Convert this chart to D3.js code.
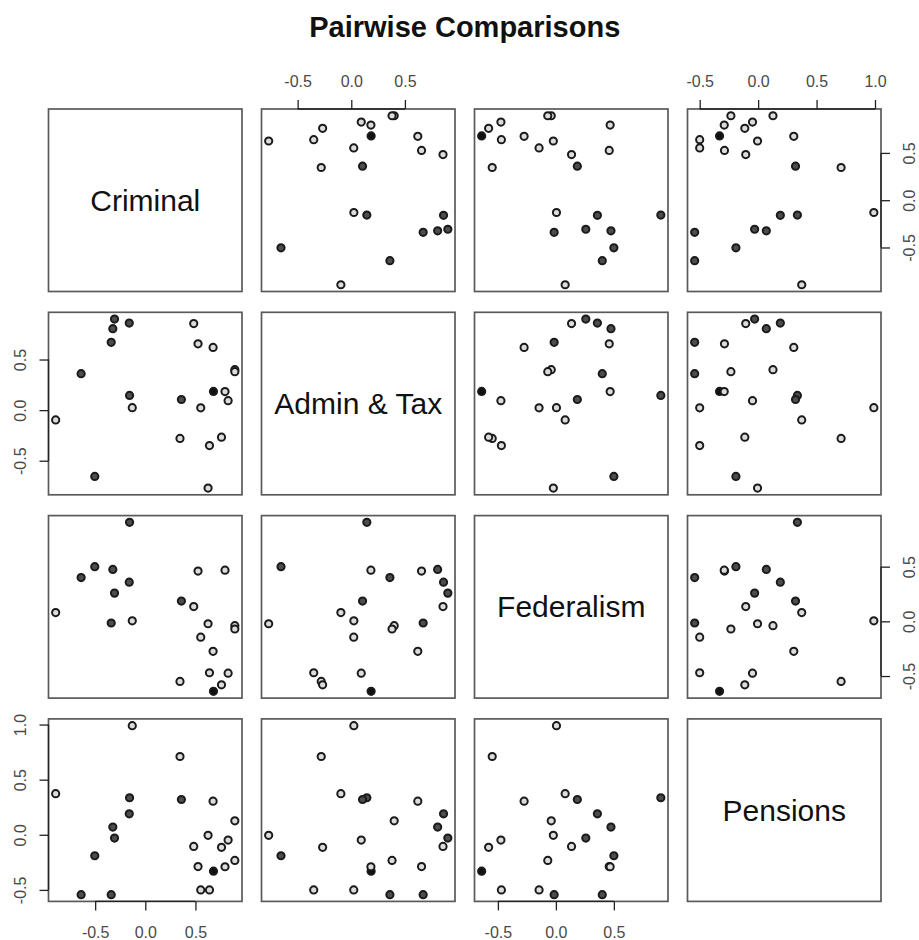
<!DOCTYPE html>
<html>
<head>
<meta charset="utf-8">
<script src="https://d3js.org/d3.v7.min.js"></script>
<style>
  body { margin: 0; background: #fff; }
  text { font-family: "Liberation Sans", Arial, sans-serif; }
</style>
</head>
<body>
<div id="pairs"></div>
<script>
// variable names (diagonal labels)
const varNames = ["Criminal", "Admin & Tax", "Federalism", "Pensions"];

const criminal   = [-0.894, -0.64, -0.504, -0.34, -0.324, -0.307, -0.16, -0.157, -0.13, 0.346, 0.36, 0.483, 0.526, 0.553, 0.626, 0.64, 0.676, 0.68, 0.76, 0.795, 0.826, 0.893, 0.893];
const adminTax   = [-0.097, 0.36, -0.655, 0.67, 0.805, 0.9, 0.86, 0.145, 0.024, -0.28, 0.105, 0.855, 0.655, 0.023, -0.77, -0.35, 0.62, 0.185, -0.267, 0.183, 0.093, 0.40, 0.38];
const federalism = [0.08, 0.40, 0.50, -0.015, 0.475, 0.258, 0.358, 0.905, 0.005, -0.549, 0.185, 0.135, 0.46, -0.145, -0.022, -0.47, -0.274, -0.64, -0.58, 0.468, -0.474, -0.04, -0.07];
const pensions   = [0.373, -0.543, -0.19, -0.543, 0.07, -0.03, 0.19, 0.336, 0.99, 0.71, 0.32, -0.106, -0.288, -0.5, -0.005, -0.5, 0.305, -0.33, -0.114, -0.29, -0.048, 0.127, -0.233];
const shade      = ["light", "dark", "dark", "dark", "dark", "dark", "dark", "dark", "light", "light", "dark", "light", "light", "light", "light", "light", "light", "black", "light", "light", "light", "light", "light"];

// tick labels for each variable
const criminalTicks   = [-0.5, 0, 0.5];
const adminTaxTicks   = [-0.5, 0, 0.5];
const federalismTicks = [-0.5, 0, 0.5];
const pensionsTicks   = [-0.5, 0, 0.5, 1.0];

const title = "Pairwise Comparisons";

class PairsPlot {
	constructor(_vars){
		this.width = 919;
		this.height = 940;
		this.panel = {left: 48.5, top: 109, w: 193.5, h: 182.5, gapX: 19.5, gapY: 20.8};
		this.fills = {light: "#dcdcdc", dark: "#4d4d4d", black: "#111"};
		this.vars = _vars;

		this.initVis();
	}

	initVis() {
		let vis = this;

		vis.svg = d3.select("#pairs")
			.append("svg")
			  .attr("width", vis.width)
			  .attr("height", vis.height);

		vis.svg.append("text")
			.attr("x", vis.panel.left + (4 * vis.panel.w + 3 * vis.panel.gapX) / 2)
			.attr("y", 37)
			.attr("text-anchor", "middle")
			.style("font-size", "29px")
			.style("font-weight", "bold")
			.attr("fill", "#111")
			.text(title);

		// one horizontal and one vertical scale per variable, with R's 4% padding
		vis.vars.forEach(v => {
			let [lo, hi] = d3.extent(v.values);
			let pad = (hi - lo) * 0.04;
			v.x = d3.scaleLinear().domain([lo - pad, hi + pad]).range([0, vis.panel.w]);
			v.y = d3.scaleLinear().domain([lo - pad, hi + pad]).range([vis.panel.h, 0]);
		});

		vis.renderVis();
	}

	renderVis(){
		let vis = this;
		let n = vis.vars.length;
		let fmt = d => d.toFixed(1);

		for (let i = 0; i < n; i++) {
			for (let j = 0; j < n; j++) {
				let g = vis.svg.append("g")
					.attr("transform", `translate(${vis.panel.left + j * (vis.panel.w + vis.panel.gapX)}, ${vis.panel.top + i * (vis.panel.h + vis.panel.gapY)})`);

				let xv = vis.vars[j], yv = vis.vars[i];

				if (i === j) {
					g.append("text")
						.attr("x", vis.panel.w / 2)
						.attr("y", vis.panel.h / 2)
						.attr("text-anchor", "middle")
						.attr("dominant-baseline", "central")
						.style("font-size", "30px")
						.attr("fill", "#111")
						.text(xv.name);
				} else {
					g.selectAll("circle")
						.data(d3.range(xv.values.length))
						.join("circle")
						.attr("cx", k => xv.x(xv.values[k]))
						.attr("cy", k => yv.y(yv.values[k]))
						.attr("r", 3.6)
						.attr("fill", k => vis.fills[shade[k]])
						.attr("stroke", "#1a1a1a")
						.attr("stroke-width", 2);
				}

				g.append("rect")
					.attr("width", vis.panel.w)
					.attr("height", vis.panel.h)
					.attr("fill", "none")
					.attr("stroke", "#5a5a5a")
					.attr("stroke-width", 1.7);

				// R pairs(): axes alternate around the outside
				if (i === 0 && j % 2 === 1) vis.drawAxis(g, d3.axisTop(xv.x), xv, "top", fmt);
				if (i === n - 1 && j % 2 === 0) vis.drawAxis(g, d3.axisBottom(xv.x), xv, "bottom", fmt);
				if (j === 0 && i % 2 === 1) vis.drawAxis(g, d3.axisLeft(yv.y), yv, "left", fmt);
				if (j === n - 1 && i % 2 === 0) vis.drawAxis(g.append("g").attr("transform", `translate(${vis.panel.w},0)`), d3.axisRight(yv.y), yv, "right", fmt);
			}
		}
	}

	drawAxis(g, axis, v, side, fmt){
		let scale = (side === "top" || side === "bottom") ? v.x : v.y;
		let ax = g.append("g")
			.attr("transform", side === "bottom" ? `translate(0,${this.panel.h})` : null)
			.call(axis.tickValues(v.ticks).tickSize(9).tickSizeOuter(0).tickFormat(fmt));

		ax.select(".domain").remove();
		ax.selectAll("line").attr("stroke", "#222").attr("stroke-width", 1.3);

		// axis line only spans the ticks, like base R
		let a = scale(v.ticks[0]), b = scale(v.ticks[v.ticks.length - 1]);
		if (side === "top" || side === "bottom")
			ax.append("line").attr("x1", a).attr("x2", b).attr("stroke", "#222").attr("stroke-width", 1.3);
		else
			ax.append("line").attr("y1", a).attr("y2", b).attr("stroke", "#222").attr("stroke-width", 1.3);

		let t = ax.selectAll("text")
			.attr("fill", "#4a4a4a")
			.style("font-size", "16px")
			.attr("font-family", null);

		if (side === "top") t.attr("y", -28).attr("dy", null).attr("dominant-baseline", "central");
		if (side === "bottom") t.attr("y", 31).attr("dy", null).attr("dominant-baseline", "central");
		if (side === "left" || side === "right") {
			let off = side === "left" ? -28 : 28;
			t.attr("x", null).attr("dy", null)
				.attr("text-anchor", "middle")
				.attr("dominant-baseline", "central")
				.attr("transform", `translate(${off},0) rotate(-90)`);
		}
	}
}

let plot = new PairsPlot([
	{name: varNames[0], values: criminal,   ticks: criminalTicks},
	{name: varNames[1], values: adminTax,   ticks: adminTaxTicks},
	{name: varNames[2], values: federalism, ticks: federalismTicks},
	{name: varNames[3], values: pensions,   ticks: pensionsTicks}
]);
</script>
</body>
</html>
